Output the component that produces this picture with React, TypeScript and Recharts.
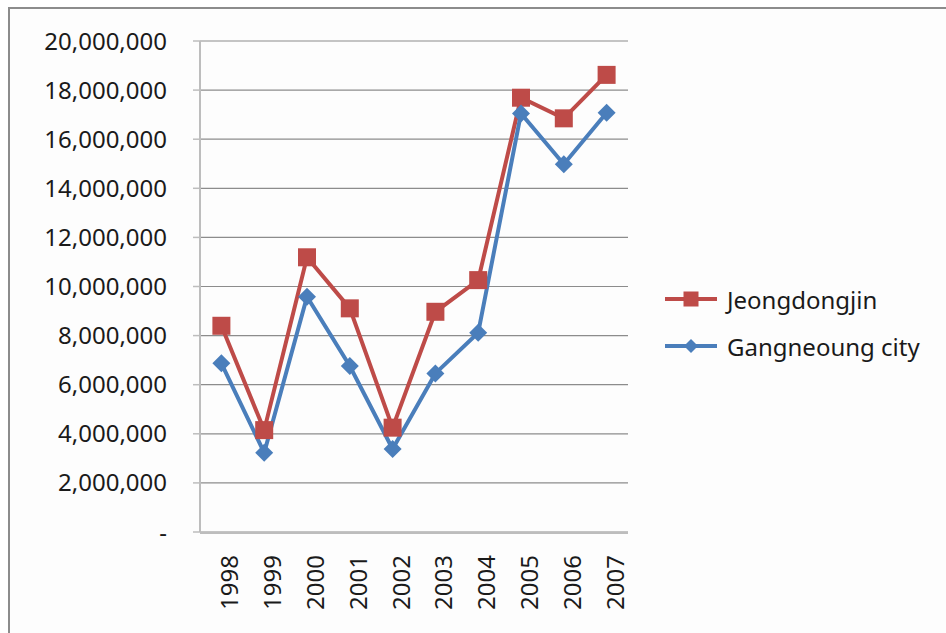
import { LineChart, Line, XAxis, YAxis, CartesianGrid, Legend } from 'recharts';

const years = ['1998', '1999', '2000', '2001', '2002', '2003', '2004', '2005', '2006', '2007'];
const jeongdongjin = [8400000, 4150000, 11190000, 9110000, 4250000, 8970000, 10260000, 17690000, 16850000, 18620000];
const gangneoung = [6870000, 3230000, 9580000, 6760000, 3380000, 6460000, 8120000, 17050000, 14980000, 17080000];
const yTicks = [0, 2000000, 4000000, 6000000, 8000000, 10000000, 12000000, 14000000, 16000000, 18000000, 20000000];
const edgeTicks = [0, 1, 2, 3, 4, 5, 6, 7, 8, 9, 10];
const seriesOrder = ['jeongdongjin', 'gangneoung'];

const RED = '#BE4B48';
const BLUE = '#4A7EBB';
const AXIS = '#bdbdbd';

const data = years.map((year, i) => ({
  year,
  jeongdongjin: jeongdongjin[i],
  gangneoung: gangneoung[i],
}));

function SquareDot(props: any) {
  const { cx, cy } = props;
  if (cx == null || cy == null) return null;
  return <rect x={cx - 9} y={cy - 9} width={18} height={18} fill={RED} />;
}

function DiamondDot(props: any) {
  const { cx, cy } = props;
  if (cx == null || cy == null) return null;
  return <polygon points={`${cx},${cy - 9} ${cx + 9},${cy} ${cx},${cy + 9} ${cx - 9},${cy}`} fill={BLUE} />;
}

function LegendIcon({ color, kind }: { color: string; kind: string }) {
  return (
    <svg width={52} height={20}>
      <line x1={0} y1={10} x2={52} y2={10} stroke={color} strokeWidth={4} />
      {kind === 'square' ? (
        <rect x={18.5} y={2.5} width={15} height={15} fill={color} />
      ) : (
        <polygon points="26,3 33,10 26,17 19,10" fill={color} />
      )}
    </svg>
  );
}

function renderLegend(props: any) {
  const payload = [...(props.payload || [])].sort(
    (a: any, b: any) => seriesOrder.indexOf(a.dataKey) - seriesOrder.indexOf(b.dataKey)
  );
  return (
    <div style={{ display: 'flex', flexDirection: 'column' }}>
      {payload.map((entry: any) => (
        <div key={entry.value} style={{ display: 'flex', alignItems: 'center', height: 47 }}>
          <LegendIcon color={entry.color} kind={entry.dataKey === 'jeongdongjin' ? 'square' : 'diamond'} />
          <span style={{ marginLeft: 10, fontSize: 24, color: '#1a1a1a' }}>{entry.value}</span>
        </div>
      ))}
    </div>
  );
}

const formatY = (v: number) => (v === 0 ? '-' : v.toLocaleString('en-US'));

export default function App() {
  return (
    <div style={{ position: 'absolute', left: 0, top: 0, width: 946, height: 633, background: '#fff', fontFamily: "'Noto Sans', sans-serif", overflow: 'hidden' }}>
      <div style={{ position: 'absolute', left: 8, top: 7, right: 0, bottom: 0, borderLeft: '2px solid #8c8c8c', borderTop: '2px solid #8c8c8c', background: '#fdfdfd' }} />
      <div style={{ position: 'absolute', left: 0, top: 0 }}>
        <LineChart width={946} height={633} data={data} margin={{ top: 41, right: 318, bottom: 0, left: 0 }}>
          <CartesianGrid vertical={false} stroke="#8c8c8c" strokeWidth={1.2} />
          <XAxis
            xAxisId="edges"
            type="number"
            domain={[0, 10]}
            ticks={edgeTicks}
            allowDataOverflow
            tick={false}
            tickSize={8}
            height={100}
            axisLine={{ stroke: AXIS, strokeWidth: 2 }}
            tickLine={{ stroke: AXIS, strokeWidth: 1.5 }}
          />
          <XAxis
            dataKey="year"
            interval={0}
            height={1}
            padding={{ left: 21.4, right: 21.4 }}
            axisLine={false}
            tickLine={false}
            tickSize={8}
            tickMargin={15}
            angle={-90}
            textAnchor="end"
            tick={{ fill: '#1a1a1a', fontSize: 24, verticalAnchor: 'middle' } as any}
          />
          <YAxis
            width={200}
            domain={[0, 20000000]}
            ticks={yTicks}
            interval={0}
            tickFormatter={formatY}
            tickSize={7}
            tickMargin={26}
            axisLine={{ stroke: AXIS, strokeWidth: 2 }}
            tickLine={{ stroke: AXIS, strokeWidth: 1.5 }}
            tick={{ fill: '#1a1a1a', fontSize: 24 }}
          />
          <Legend
            layout="vertical"
            align="center"
            verticalAlign="middle"
            content={renderLegend}
            wrapperStyle={{ left: 665, top: 275.5, width: 270 }}
          />
          <Line
            dataKey="jeongdongjin"
            name="Jeongdongjin"
            stroke={RED}
            strokeWidth={4}
            dot={<SquareDot />}
            activeDot={false}
            isAnimationActive={false}
          />
          <Line
            dataKey="gangneoung"
            name="Gangneoung city"
            stroke={BLUE}
            strokeWidth={4}
            dot={<DiamondDot />}
            activeDot={false}
            isAnimationActive={false}
          />
        </LineChart>
      </div>
    </div>
  );
}
